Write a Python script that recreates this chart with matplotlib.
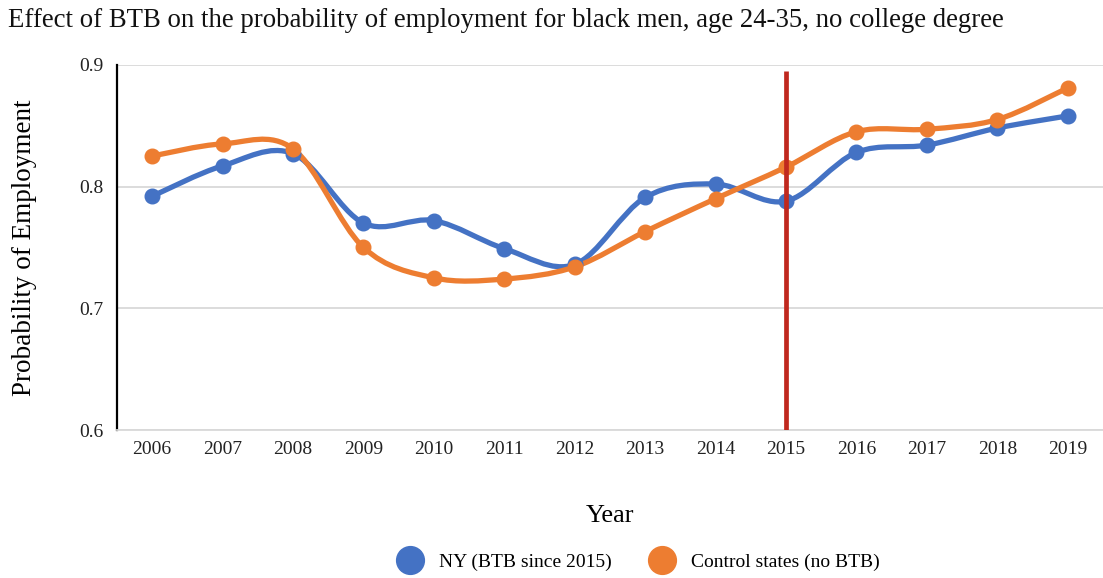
import matplotlib
matplotlib.use("Agg")
import matplotlib.pyplot as plt
from matplotlib.path import Path
from matplotlib.patches import PathPatch
from matplotlib.lines import Line2D
import numpy as np

# Data
years = ["2006", "2007", "2008", "2009", "2010", "2011", "2012",
         "2013", "2014", "2015", "2016", "2017", "2018", "2019"]
ny_btb = [0.792, 0.817, 0.827, 0.770, 0.772, 0.749, 0.736,
          0.791, 0.802, 0.788, 0.828, 0.834, 0.848, 0.858]
control = [0.825, 0.835, 0.831, 0.750, 0.725, 0.724, 0.734,
           0.763, 0.790, 0.816, 0.845, 0.847, 0.855, 0.881]
policy_year = "2015"
y_ticks = [0.6, 0.7, 0.8, 0.9]

BLUE = "#4472C4"
ORANGE = "#ED7D31"
RED = "#C0281E"
GRID = "#D9D9D9"

plt.rcParams["font.family"] = ["Liberation Serif", "DejaVu Serif"]


def smooth_path(xs, ys):
    """Catmull-Rom style cubic Bezier path through all points."""
    pts = np.column_stack([xs, ys]).astype(float)
    n = len(pts)
    verts = [pts[0]]
    codes = [Path.MOVETO]
    for i in range(n - 1):
        p0 = pts[i - 1] if i > 0 else pts[i]
        p1 = pts[i]
        p2 = pts[i + 1]
        p3 = pts[i + 2] if i + 2 < n else pts[i + 1]
        c1 = p1 + (p2 - p0) / 6.0
        c2 = p2 - (p3 - p1) / 6.0
        verts += [c1, c2, p2]
        codes += [Path.CURVE4] * 3
    return Path(verts, codes)


fig = plt.figure(figsize=(11.03, 5.78), dpi=100)
ax = fig.add_axes([0.106, 0.256, 0.894, 0.632])

x = np.arange(len(years))
for vals, color in [(ny_btb, BLUE), (control, ORANGE)]:
    patch = PathPatch(smooth_path(x, vals), facecolor="none", edgecolor=color,
                      lw=3.8, capstyle="round", joinstyle="round", zorder=3)
    ax.add_patch(patch)
    ax.plot(x, vals, linestyle="none", marker="o", markersize=10.5,
            color=color, zorder=4)

px = years.index(policy_year)
ax.vlines(px, 0.6, 0.895, color=RED, lw=3.4, zorder=5)

ax.set_xlim(-0.5, len(years) - 0.5)
ax.set_ylim(0.6, 0.9)
ax.set_xticks(x)
ax.set_xticklabels(years)
ax.set_yticks(y_ticks)
ax.set_yticklabels([f"{v:.1f}" for v in y_ticks])
ax.tick_params(axis="both", length=0, labelsize=14, colors="#222222")
ax.tick_params(axis="y", pad=10)
ax.tick_params(axis="x", pad=8)
ax.grid(axis="y", color=GRID, lw=1.3)
ax.set_axisbelow(True)
for s in ["top", "right"]:
    ax.spines[s].set_visible(False)
ax.spines["bottom"].set_color(GRID)
ax.spines["bottom"].set_linewidth(1.3)
ax.spines["left"].set_color("black")
ax.spines["left"].set_linewidth(1.6)

ax.set_ylabel("Probability of Employment", fontsize=19.5, labelpad=30)
fig.text(0.553, 0.108, "Year", ha="center", va="center", fontsize=19)
fig.text(0.007, 0.965, "Effect of BTB on the probability of employment for black men, age 24-35, no college degree",
         ha="left", va="center", fontsize=19.3, color="#111111")

handles = [Line2D([], [], linestyle="none", marker="o", markersize=20, color=BLUE),
           Line2D([], [], linestyle="none", marker="o", markersize=20, color=ORANGE)]
fig.legend(handles, ["NY (BTB since 2015)", "Control states (no BTB)"],
           loc="center", bbox_to_anchor=(0.576, 0.028), ncol=2, frameon=False,
           fontsize=14, handletextpad=0.5, columnspacing=1.6)

fig.savefig("out.png", dpi=100, facecolor="white")
